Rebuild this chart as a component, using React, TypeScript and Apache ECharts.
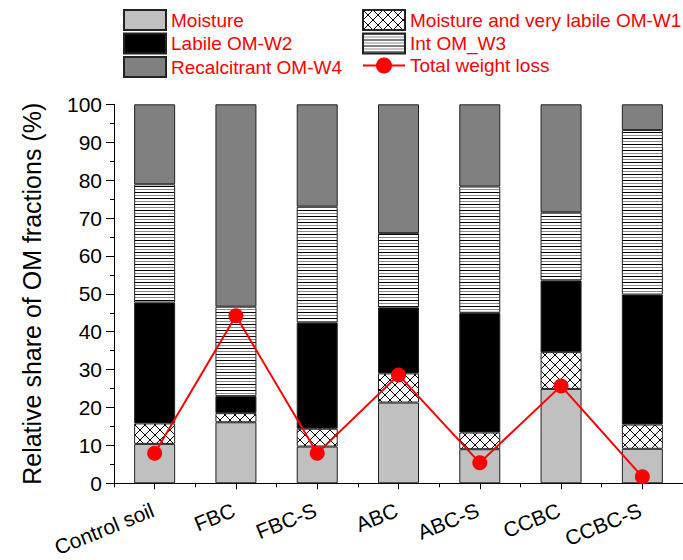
import React, { useEffect, useRef } from "react";
import * as echarts from "echarts";

const categories = ["Control soil", "FBC", "FBC-S", "ABC", "ABC-S", "CCBC", "CCBC-S"];
const moisture = [10.4, 16.1, 9.7, 21.3, 9.0, 24.9, 9.1];
const veryLabileW1 = [5.4, 2.4, 4.7, 7.7, 4.4, 9.7, 6.4];
const labileW2 = [31.9, 4.5, 28.0, 17.4, 31.6, 18.9, 34.3];
const intW3 = [31.2, 23.6, 30.6, 19.6, 33.3, 18.0, 43.4];
const recalcitrantW4 = [21.1, 53.4, 27.0, 34.0, 21.7, 28.5, 6.8];
const totalWeightLoss = [7.9, 44.2, 7.9, 28.6, 5.4, 25.7, 1.7];

const FONT = "'Liberation Sans', Arial, sans-serif";

function crossPattern() {
  const s = 10;
  const c = document.createElement("canvas");
  c.width = s;
  c.height = s;
  const ctx = c.getContext("2d")!;
  ctx.fillStyle = "#fff";
  ctx.fillRect(0, 0, s, s);
  ctx.strokeStyle = "#000";
  ctx.lineWidth = 1;
  ctx.beginPath();
  ctx.moveTo(-1, -1);
  ctx.lineTo(s + 1, s + 1);
  ctx.moveTo(s + 1, -1);
  ctx.lineTo(-1, s + 1);
  ctx.stroke();
  return { image: c, repeat: "repeat", imageWidth: s, imageHeight: s };
}

function hLinePattern() {
  const w = 4;
  const h = 6;
  const c = document.createElement("canvas");
  c.width = w;
  c.height = h;
  const ctx = c.getContext("2d")!;
  ctx.fillStyle = "#fff";
  ctx.fillRect(0, 0, w, h);
  ctx.fillStyle = "#000";
  ctx.fillRect(0, 0, w, 1);
  ctx.fillStyle = "#8a8a8a";
  ctx.fillRect(0, 3, w, 1);
  return { image: c, repeat: "repeat", imageWidth: w, imageHeight: h };
}

export default function App() {
  const ref = useRef<HTMLDivElement>(null);
  useEffect(() => {
    if (!ref.current) return;
    const chart = echarts.init(ref.current, null, { renderer: "svg" });
    const barBase = {
      type: "bar" as const,
      stack: "om",
      barWidth: 41,
      xAxisIndex: 0,
    };
    const border = { borderColor: "#222", borderWidth: 1 };
    const legendText = { color: "#ff0000", fontSize: 19, fontFamily: FONT };
    chart.setOption({
      animation: false,
      backgroundColor: "#fff",
      textStyle: { fontFamily: FONT },
      grid: { left: 114, top: 104.3, width: 577.5, height: 379, containLabel: false },
      legend: [
        {
          orient: "vertical",
          left: 123,
          top: 9,
          itemWidth: 42,
          itemHeight: 20,
          itemGap: 1.5,
          padding: 0,
          textStyle: legendText,
          data: [
            { name: "Moisture", icon: "rect" },
            { name: "Labile OM-W2", icon: "rect" },
            { name: "Recalcitrant OM-W4", icon: "rect" },
          ],
        },
        {
          orient: "vertical",
          left: 362,
          top: 9,
          itemWidth: 42,
          itemHeight: 20,
          itemGap: 1.5,
          padding: 0,
          textStyle: legendText,
          data: [
            { name: "Moisture and very labile OM-W1", icon: "rect" },
            { name: "Int OM_W3", icon: "rect" },
            { name: "Total weight loss" },
          ],
        },
      ],
      xAxis: [
        {
          type: "category",
          data: categories,
          position: "bottom",
          axisLine: { show: true, lineStyle: { color: "#000", width: 1 } },
          axisTick: { show: true, alignWithLabel: true, length: 6, lineStyle: { color: "#000" } },
          axisLabel: {
            rotate: 22,
            fontSize: 21,
            color: "#000",
            margin: 25,
            padding: [0, 2, 0, 0],
            fontFamily: FONT,
          },
          splitLine: { show: false },
        },
        {
          type: "category",
          data: categories,
          position: "bottom",
          axisLine: { show: false },
          axisTick: { show: true, length: 4, lineStyle: { color: "#000" } },
          axisLabel: { show: false },
          splitLine: { show: false },
        },
      ],
      yAxis: {
        type: "value",
        min: 0,
        max: 100,
        interval: 10,
        axisLine: { show: true, lineStyle: { color: "#000", width: 1 } },
        axisTick: { show: true, inside: false, length: 8, lineStyle: { color: "#000" } },
        minorTick: { show: true, splitNumber: 2, length: 4, lineStyle: { color: "#000" } },
        splitLine: { show: false },
        minorSplitLine: { show: false },
        axisLabel: { fontSize: 21, color: "#000", margin: 12, fontFamily: FONT },
        name: "Relative share of OM fractions (%)",
        nameLocation: "middle",
        nameGap: 70,
        nameTextStyle: { fontSize: 25, color: "#000", fontFamily: FONT },
      },
      series: [
        { ...barBase, name: "Moisture", data: moisture, itemStyle: { color: "#c0c0c0", ...border } },
        { ...barBase, name: "Moisture and very labile OM-W1", data: veryLabileW1, itemStyle: { color: crossPattern(), ...border } },
        { ...barBase, name: "Labile OM-W2", data: labileW2, itemStyle: { color: "#000", ...border } },
        { ...barBase, name: "Int OM_W3", data: intW3, itemStyle: { color: hLinePattern(), ...border } },
        { ...barBase, name: "Recalcitrant OM-W4", data: recalcitrantW4, itemStyle: { color: "#808080", ...border } },
        {
          type: "line",
          name: "Total weight loss",
          data: totalWeightLoss,
          xAxisIndex: 0,
          z: 5,
          symbol: "circle",
          symbolSize: 15,
          lineStyle: { color: "#ff0000", width: 2 },
          itemStyle: { color: "#ff0000" },
        },
      ],
    });
    return () => chart.dispose();
  }, []);
  return (
    <div
      ref={ref}
      style={{ position: "fixed", left: 0, top: 0, width: 683, height: 560, background: "#fff" }}
    />
  );
}
